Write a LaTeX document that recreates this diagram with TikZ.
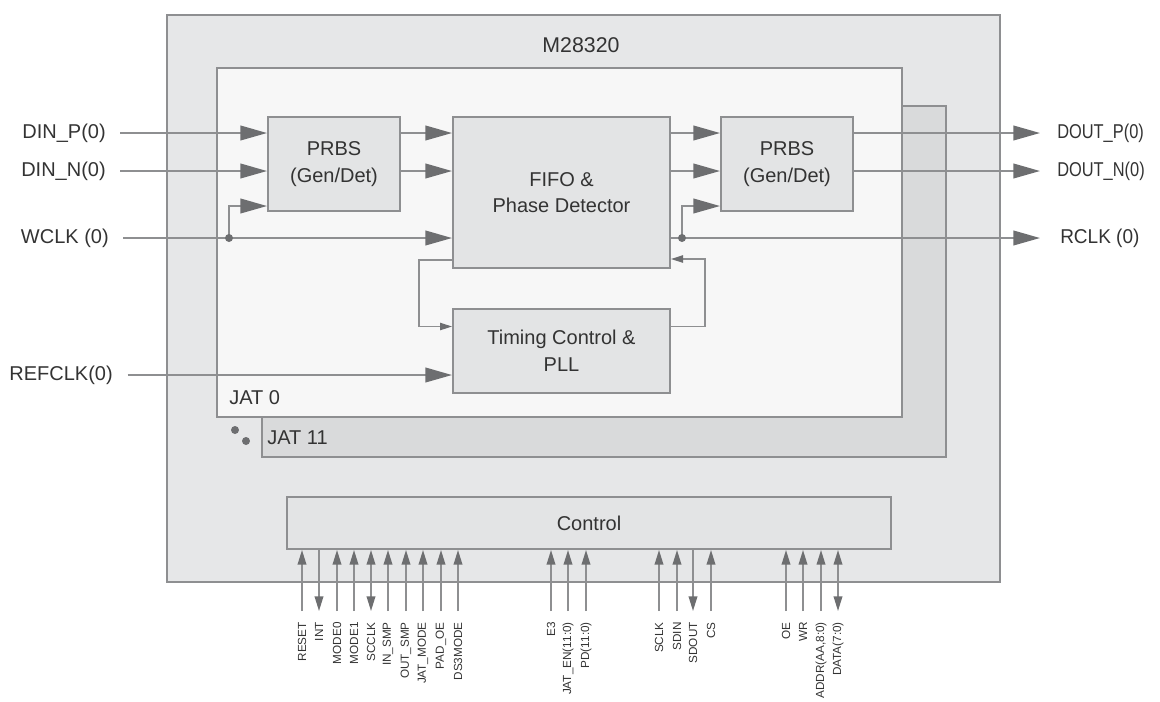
\documentclass[tikz,border=0pt]{standalone}
\usepackage{fontspec}
\setmainfont{Liberation Sans}
\usetikzlibrary{arrows.meta,positioning}

\definecolor{chipgray}{HTML}{E6E7E8}
\definecolor{jatzero}{HTML}{F7F7F7}
\definecolor{jatback}{HTML}{D9DADB}
\definecolor{blockgray}{HTML}{E3E4E5}
\definecolor{linegray}{HTML}{8E8F91}
\definecolor{tipgray}{HTML}{6D6E70}
\definecolor{textgray}{HTML}{333333}

\tikzset{
  bigtip/.tip={Triangle[length=20pt,width=11pt,color=tipgray]},
  smalltip/.tip={Triangle[length=9pt,width=5.5pt,color=tipgray]},
  pintip/.tip={Triangle[length=11pt,width=6.5pt,color=tipgray]}
}

\begin{document}
\begin{tikzpicture}[
		x=0.75pt, y=-0.75pt,
		every node/.style={text=textgray, inner sep=0pt},
		boxline/.style={draw=linegray, line width=1.5pt},
		blk/.style={boxline, fill=blockgray, align=center, font=\fontsize{15}{20}\selectfont},
		siglbl/.style={font=\fontsize{15}{18}\selectfont},
		sig/.style={draw=linegray, line width=1.4pt, -bigtip},
		fb/.style={draw=linegray, line width=1.1pt, -smalltip},
		pinline/.style={draw=linegray, line width=1.2pt},
		pinup/.style={-pintip},
		pindown/.style={pintip-},
		pinboth/.style={pintip-pintip},
		pinlbl/.style={rotate=90, anchor=east, font=\fontsize{8.8}{10}\selectfont},
		tapdot/.style={circle, fill=tipgray, minimum size=6pt}
	]
  \useasboundingbox (0,0) rectangle (1160,701);

  % chip and the two channel frames
  \draw[boxline, fill=chipgray] (167,15) rectangle (1000,582);
  \draw[boxline, fill=jatback] (262,106) rectangle (946,457);
  \draw[boxline, fill=jatzero] (217,68) rectangle (902,417);

  \node (title) [font=\fontsize{16}{18}\selectfont] at (581,45) {M28320};
  \node (jat0) [siglbl, anchor=west] at (229,398) {JAT 0};
  \node (jat11) [siglbl, anchor=west] at (267,438) {JAT 11};
  \node (dota) [tapdot] at (235,430) {};
  \node (dotb) [tapdot] at (246,441) {};

  % blocks
  \node (prbsl) [blk, minimum width=99pt, minimum height=70.5pt] at (334,164) {PRBS\\(Gen/Det)};
  \node (fifo) [blk, minimum width=162.75pt, minimum height=113.25pt] at (561.5,192.5) {FIFO \&\\Phase Detector};
  \node (prbsr) [blk, minimum width=99pt, minimum height=70.5pt] at (787,164) {PRBS\\(Gen/Det)};
  \node (timing) [blk, minimum width=162.75pt, minimum height=63pt] at (561.5,350.5) {Timing Control \&\\PLL};
  \node (ctrl) [blk, minimum width=453pt, minimum height=39pt] at (589,523) {Control};

  % signal names
  \node (dinp) [siglbl, anchor=east] at (106,133) {DIN\_P(0)};
  \node (dinn) [siglbl, anchor=east] at (106,171) {DIN\_N(0)};
  \node (wclk) [siglbl, anchor=east] at (109,238) {WCLK (0)};
  \node (refclk) [siglbl, anchor=east] at (113,375) {REFCLK(0)};
  \node (doutp) [siglbl, anchor=west] at (1057,133) {\scalebox{0.82}[1]{DOUT\_P(0)}};
  \node (doutn) [siglbl, anchor=west] at (1057,171) {\scalebox{0.82}[1]{DOUT\_N(0)}};
  \node (rclk) [siglbl, anchor=west] at (1060,238) {\scalebox{0.95}[1]{RCLK (0)}};

  \coordinate (wtap) at (229,238);
  \coordinate (rtap) at (682,238);

  \draw[sig] ([xshift=10.5pt]dinp.east) -- (prbsl.west |- dinp);
  \draw[sig] ([xshift=10.5pt]dinn.east) -- (prbsl.west |- dinn);
  \draw[sig] ([xshift=10.5pt]wclk.east) -- (fifo.west |- wclk);
  \draw[sig] (wtap) |- ([yshift=4.5pt]prbsl.south west);
  \draw[sig] ([xshift=11pt]refclk.east) -- (timing.west |- refclk);

  \draw[sig] (prbsl.east |- dinp) -- (fifo.west |- dinp);
  \draw[sig] (prbsl.east |- dinn) -- (fifo.west |- dinn);
  \draw[sig] (fifo.east |- dinp) -- (prbsr.west |- dinp);
  \draw[sig] (fifo.east |- dinn) -- (prbsr.west |- dinn);

  \draw[sig] (prbsr.east |- doutp) -- ([xshift=-12.75pt]doutp.west);
  \draw[sig] (prbsr.east |- doutn) -- ([xshift=-12.75pt]doutn.west);
  \draw[sig] (fifo.east |- rclk) -- ([xshift=-15pt]rclk.west);
  \draw[sig] (rtap) |- ([yshift=4.5pt]prbsr.south west);

  \draw[fb] ([yshift=6.75pt]fifo.south west) -- ++(-33,0) |- ([yshift=18pt]timing.west);
  \draw[fb] ([yshift=18pt]timing.east) -- ++(34,0) |- ([yshift=7.5pt]fifo.south east);

  \node (wdot) [tapdot] at (wtap) {};
  \node (rdot) [tapdot] at (rtap) {};

  % control pins
  \foreach \px/\pname/\pdir in {302/RESET/pinup, 319/INT/pindown, 337/MODE0/pinup,
      354/MODE1/pinup, 371/SCCLK/pinboth, 388/IN\_SMP/pinup, 406/OUT\_SMP/pinup,
      423/JAT\_MODE/pinup, 441/PAD\_OE/pinup, 458/DS3MODE/pinup,
      551/E3/pinup, 568/JAT\_EN(11:0)/pinup, 586/PD(11:0)/pinup,
      659/SCLK/pinup, 677/SDIN/pinup, 693/SDOUT/pindown, 711/CS/pinup,
      786/OE/pinup, 803/WR/pinup, 821/{ADDR(AA,8:0)}/pinup, 838/DATA(7:0)/pinboth}{
    \node (pin\px) [pinlbl] at (\px,622) {\pname};
    \coordinate (pend\px) at (\px,611);
    \draw[pinline, \pdir] (pend\px) -- (ctrl.south -| pend\px);
  }
\end{tikzpicture}
\end{document}
